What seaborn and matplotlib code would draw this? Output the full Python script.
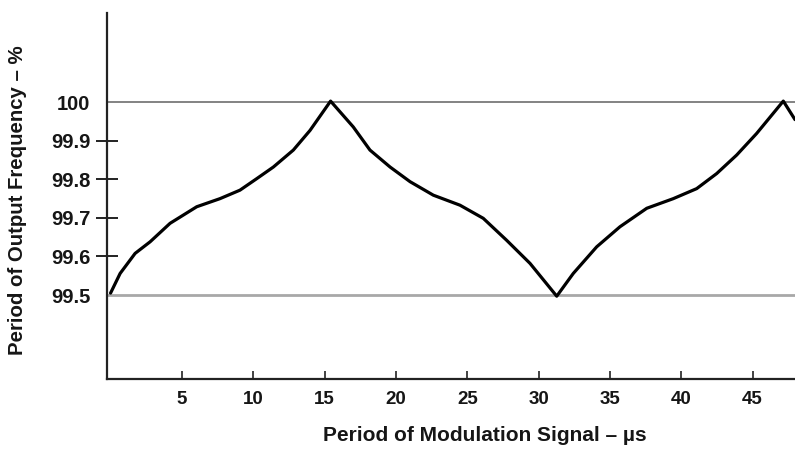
import matplotlib
matplotlib.use("Agg")
import matplotlib.pyplot as plt
import seaborn as sns
import pandas as pd

# Data
period_us = [0.0, 0.67, 1.72, 2.77, 4.17, 6.04, 7.67, 9.07, 10.25, 11.41, 12.81, 13.98, 15.42,
             17.01, 18.18, 19.59, 20.99, 22.62, 24.49, 26.12, 27.76, 29.40, 31.27,
             32.43, 34.07, 35.70, 37.58, 39.44, 41.08, 42.48, 43.88, 45.28, 47.15, 47.97]
output_pct = [99.505, 99.556, 99.608, 99.638, 99.686, 99.729, 99.750, 99.772, 99.802, 99.832, 99.876, 99.927, 100.003,
              99.936, 99.876, 99.832, 99.794, 99.759, 99.733, 99.699, 99.642, 99.582, 99.497,
              99.556, 99.625, 99.677, 99.725, 99.750, 99.776, 99.815, 99.863, 99.919, 100.003, 99.955]
x_ticks = [5, 10, 15, 20, 25, 30, 35, 40, 45]
y_ticks = [99.5, 99.6, 99.7, 99.8, 99.9, 100]
y_tick_labels = ["99.5", "99.6", "99.7", "99.8", "99.9", "100"]
y_cross_ticks = [99.6, 99.7, 99.8, 99.9]
ref_lines = [100, 99.5]

df = pd.DataFrame({"x": period_us, "y": output_pct})

sns.set_style("ticks")
plt.rcParams["font.family"] = ["Liberation Sans", "DejaVu Sans"]
plt.rcParams["font.weight"] = "bold"

TXT = "#161616"

fig = plt.figure(figsize=(7.95, 4.49), dpi=100)
ax = fig.add_axes([107/795, (449-379)/449, (795-107)/795, (379-13)/449])

ax.axhline(ref_lines[0], color="#7a7a7a", lw=1.3, zorder=1)
ax.axhline(ref_lines[1], color="#a8a8a8", lw=2.0, zorder=1)

sns.lineplot(data=df, x="x", y="y", ax=ax, color="black", lw=2.3, zorder=3, estimator=None, sort=False)

ax.set_xlim(-0.25, 47.97)
ax.set_ylim(99.2822, 100.2315)

for s in ["top", "right"]:
    ax.spines[s].set_visible(False)
for s in ["left", "bottom"]:
    ax.spines[s].set_color("#222222")
    ax.spines[s].set_linewidth(1.6)

ax.set_xticks(x_ticks)
ax.set_xticklabels([str(t) for t in x_ticks], fontsize=13.5, fontweight="bold", color=TXT)
ax.xaxis.set_tick_params(which="major", bottom=True, direction="in", length=6, width=1.2,
                         color="#222222", pad=9)

ax.yaxis.remove_overlapping_locs = False
ax.set_yticks(y_ticks)
ax.set_yticklabels(y_tick_labels, fontsize=14.5, fontweight="bold", color=TXT)
ax.yaxis.set_tick_params(which="major", left=True, length=0, pad=12)
ax.set_yticks(y_cross_ticks, minor=True)
ax.yaxis.set_tick_params(which="minor", left=True, direction="inout", length=16, width=1.4,
                         color="#222222")

ax.set_xlabel("Period of Modulation Signal – µs", fontsize=15, fontweight="bold", color=TXT)
ax.set_ylabel("Period of Output Frequency – %", fontsize=14.7, fontweight="bold", color=TXT)
ax.xaxis.set_label_coords(0.549, -0.128)
ax.yaxis.set_label_coords(-0.116, 0.488)

fig.savefig("out.png", dpi=100)
